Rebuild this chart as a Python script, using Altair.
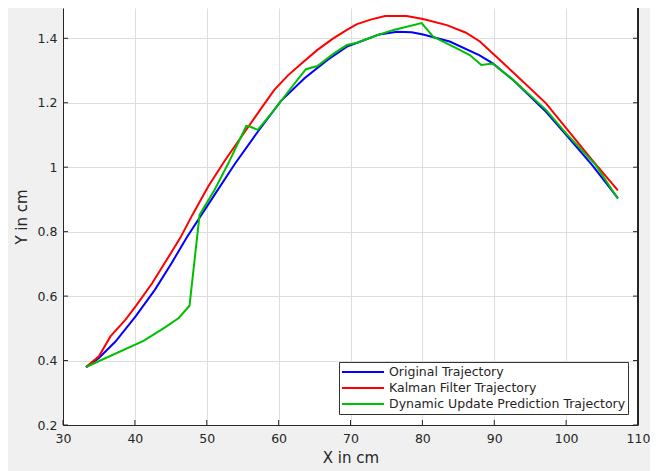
import altair as alt
import pandas as pd

# Original trajectory
orig_x = [33.2, 35.0, 37.3, 40.1, 42.8, 45.1, 47.3, 51.1, 53.9, 57.1, 60.3, 63.6, 66.8, 69.5,
          71.4, 74.0, 76.5, 78.5, 80.1, 83.8, 87.9, 89.8, 92.6, 97.2, 100.0, 103.6, 107.2]
orig_y = [0.379, 0.408, 0.459, 0.537, 0.62, 0.702, 0.785, 0.915, 1.01, 1.11, 1.205, 1.276, 1.333, 1.374,
          1.39, 1.412, 1.42, 1.419, 1.412, 1.39, 1.348, 1.322, 1.271, 1.172, 1.10, 1.007, 0.904]

# Kalman filter trajectory
kal_x = [33.2, 35.0, 36.6, 38.7, 40.1, 42.4, 44.5, 46.3, 48.0, 50.2, 52.5, 55.3, 57.5, 59.4, 61.3,
         63.1, 65.4, 67.5, 69.5, 70.9, 72.8, 74.8, 77.8, 80.1, 83.4, 86.0, 88.0, 89.8, 93.5, 97.2,
         100.0, 103.6, 107.2]
kal_y = [0.38, 0.413, 0.475, 0.527, 0.568, 0.64, 0.715, 0.78, 0.852, 0.94, 1.02, 1.11, 1.18, 1.24, 1.285,
         1.32, 1.364, 1.398, 1.426, 1.444, 1.458, 1.469, 1.469, 1.46, 1.441, 1.418, 1.39, 1.353, 1.276, 1.198,
         1.121, 1.023, 0.928]

# Dynamic update prediction trajectory
dyn_x = [33.2, 41.2, 44.2, 46.1, 47.6, 49.0, 51.1, 53.0, 55.5, 56.0, 57.1, 59.4, 61.7, 63.8, 65.4,
         67.7, 69.5, 70.9, 73.5, 76.0, 79.9, 81.5, 84.3, 86.6, 88.2, 89.8, 92.6, 97.2, 100.0, 104.1, 107.2]
dyn_y = [0.38, 0.461, 0.503, 0.532, 0.57, 0.852, 0.93, 1.012, 1.128, 1.126, 1.116, 1.178, 1.245, 1.304, 1.314,
         1.353, 1.379, 1.386, 1.408, 1.426, 1.447, 1.405, 1.374, 1.348, 1.317, 1.322, 1.271, 1.178, 1.105, 1.007, 0.902]

series_names = ["Original Trajectory", "Kalman Filter Trajectory", "Dynamic Update Prediction Trajectory"]
series_colors = ["#0000ff", "#ff0000", "#00bf00"]

x_ticks = [30, 40, 50, 60, 70, 80, 90, 100, 110]
y_ticks = [0.2, 0.4, 0.6, 0.8, 1.0, 1.2, 1.4]

rows = []
for name, xs, ys in zip(series_names, [orig_x, kal_x, dyn_x], [orig_y, kal_y, dyn_y]):
    for i, (xv, yv) in enumerate(zip(xs, ys)):
        rows.append({"series": name, "x": xv, "y": yv, "i": i})
df = pd.DataFrame(rows)

W, H = 575, 417
AX = "#262626"
FONT = "DejaVu Sans"

xscale = alt.Scale(domain=[30, 110], nice=False, zero=False)
yscale = alt.Scale(domain=[0.2, 1.494], nice=False, zero=False)

lines = alt.Chart(df).mark_line(strokeWidth=2).encode(
    x=alt.X("x:Q", scale=xscale, title="X in cm",
            axis=alt.Axis(values=x_ticks, grid=True, ticks=False, labelPadding=7, titlePadding=6,
                          labelFlush=False, labelOverlap=False,
                          domainColor=AX, labelColor=AX, titleColor=AX, gridColor="#dedede",
                          labelFont=FONT, titleFont=FONT, labelFontSize=12.5, titleFontSize=15,
                          titleFontWeight="normal")),
    y=alt.Y("y:Q", scale=yscale, title="Y in cm",
            axis=alt.Axis(values=y_ticks, grid=True, ticks=False, labelPadding=6, titlePadding=8,
                          labelFlush=False, labelOverlap=False,
                          format="~g", domainColor=AX, labelColor=AX, titleColor=AX, gridColor="#dedede",
                          labelFont=FONT, titleFont=FONT, labelFontSize=12.5, titleFontSize=15,
                          titleFontWeight="normal")),
    color=alt.Color("series:N", scale=alt.Scale(domain=series_names, range=series_colors),
                    legend=alt.Legend(title=None, orient="none", legendX=276, legendY=354,
                                      symbolType="stroke", symbolSize=1764, symbolStrokeWidth=2,
                                      clipHeight=16, rowPadding=0, padding=2, labelOffset=4,
                                      labelFont=FONT, labelFontSize=12.5, labelColor=AX, labelLimit=400,
                                      strokeColor="#333333", fillColor="white", cornerRadius=0)),
    order="i:Q",
)

xt = pd.DataFrame({"t": x_ticks})
yt = pd.DataFrame({"t": y_ticks})

xticks_bottom = alt.Chart(xt).mark_rule(color=AX, strokeWidth=1).encode(
    x=alt.X("t:Q", scale=xscale), y=alt.value(H), y2=alt.value(H - 5))
yticks_left = alt.Chart(yt).mark_rule(color=AX, strokeWidth=1).encode(
    y=alt.Y("t:Q", scale=yscale), x=alt.value(0), x2=alt.value(5))
yticks_right = alt.Chart(yt).mark_rule(color=AX, strokeWidth=1).encode(
    y=alt.Y("t:Q", scale=yscale), x=alt.value(W), x2=alt.value(W - 5))
right_axis = alt.Chart(yt).mark_rule(color=AX, strokeWidth=1.5).encode(
    x=alt.value(W), y=alt.value(0), y2=alt.value(H))

chart = alt.layer(lines, xticks_bottom, yticks_left, yticks_right, right_axis).properties(
    width=W, height=H,
    autosize=alt.AutoSizeParams(type="none"),
    padding={"left": 55, "top": 0, "right": 12, "bottom": 46},
    background="#f0f0f0",
).configure_view(fill="white", stroke=None)

chart.save("out.html", embed_options={"renderer": "svg", "actions": False})
